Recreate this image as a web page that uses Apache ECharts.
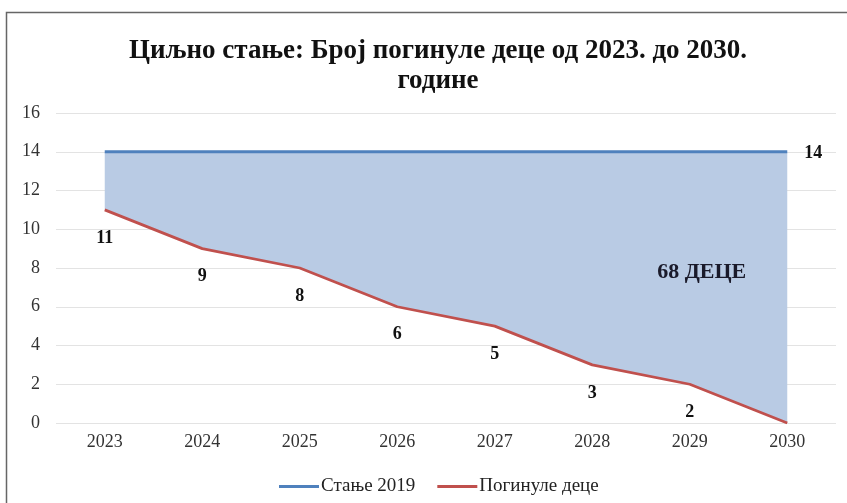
<!DOCTYPE html>
<html>
<head>
<meta charset="utf-8">
<script src="https://cdn.jsdelivr.net/npm/echarts@6/dist/echarts.min.js"></script>
<style>
html,body{margin:0;padding:0;background:#fff;}
#c{width:847px;height:503px;}
</style>
</head>
<body>
<div id="c"></div>
<script>
const years = ['2023','2024','2025','2026','2027','2028','2029','2030'];
const status2019 = [14,14,14,14,14,14,14,14];
const killed = [11,9,8,6,5,3,2,0];
const yTicks = {min:0, max:16, interval:2};
const titleText = 'Циљно стање: Број погинуле деце од 2023. до 2030.\nгодине';
const seriesNames = ['Стање 2019','Погинуле деце'];
const annotation = '68 ДЕЦЕ';
const annotationAt = ['2029', 7.9];

const FONT = '"Liberation Serif", "Times New Roman", serif';
const chart = echarts.init(document.getElementById('c'));
const last = years.length - 1;
const gap = status2019.map((v,i) => v - killed[i]);

chart.setOption({
  animation:false,
  title:{
    text:titleText, left:433, top:31, textAlign:'center',
    textStyle:{fontFamily:FONT, fontWeight:'bold', fontSize:27, color:'#111', lineHeight:30}
  },
  graphic:[{type:'rect', shape:{x:6.5,y:12.5,width:900,height:600}, style:{fill:null, stroke:'#666', lineWidth:1.5}, silent:true}],
  legend:{
    data:seriesNames, top:472, left:274, itemWidth:40, itemHeight:3, itemGap:22,
    icon:'rect',
    textStyle:{fontFamily:FONT, fontSize:19, color:'#222', padding:[0,0,0,-3]}
  },
  grid:{left:56, right:11, top:113, bottom:80},
  xAxis:{
    type:'category', data:years, boundaryGap:true,
    axisLine:{show:false}, axisTick:{show:false},
    axisLabel:{fontFamily:FONT, fontSize:18, color:'#333', margin:10}
  },
  yAxis:{
    type:'value', min:yTicks.min, max:yTicks.max, interval:yTicks.interval,
    axisLine:{show:false}, axisTick:{show:false},
    splitLine:{lineStyle:{color:'#e3e3e3', width:1}},
    axisLabel:{fontFamily:FONT, fontSize:18, color:'#333', margin:16}
  },
  series:[
    {name:'base', type:'line', stack:'fill', data:killed, symbol:'none', lineStyle:{opacity:0}, silent:true, z:1},
    {name:'gap', type:'line', stack:'fill', data:gap, symbol:'none', lineStyle:{opacity:0},
      areaStyle:{color:'#b9cbe4', opacity:1}, silent:true, z:1,
      markPoint:{symbol:'circle', symbolSize:1, itemStyle:{color:'rgba(0,0,0,0)'},
        data:[{coord:annotationAt, value:annotation}],
        label:{show:true, position:'inside', offset:[12,2], formatter:annotation, fontFamily:FONT, fontWeight:'bold', fontSize:22, color:'#1a1a2a'}}
    },
    {name:seriesNames[0], type:'line', data:status2019.map((v,i)=> i===last ? {value:v, label:{show:true}} : v),
      symbol:'circle', symbolSize:0, showSymbol:true, z:3, color:'#4f81bd', lineStyle:{color:'#4f81bd', width:3},
      label:{show:false, position:'right', distance:17, offset:[0,2], fontFamily:FONT, fontWeight:'bold', fontSize:18, color:'#111'}
    },
    {name:seriesNames[1], type:'line', data:killed.map((v,i)=> i===last ? {value:v, label:{show:false}} : v),
      symbol:'circle', symbolSize:0, showSymbol:true, z:3, color:'#c0504d', lineStyle:{color:'#c0504d', width:2.8},
      label:{show:true, position:'bottom', distance:19, fontFamily:FONT, fontWeight:'bold', fontSize:18, color:'#111'}
    }
  ]
});
</script>
</body>
</html>
